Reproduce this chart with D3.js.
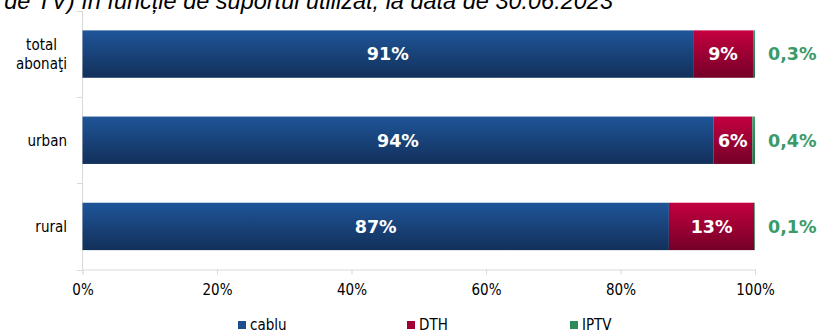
<!DOCTYPE html>
<html><head><meta charset="utf-8">
<script src="https://cdn.jsdelivr.net/npm/d3@7/dist/d3.min.js"></script>
<style>
html,body{margin:0;padding:0;background:#fff;overflow:hidden}
svg{display:block}
</style></head>
<body>
<svg id="chart" width="824" height="334"></svg>
<script>
const categories = ["total abonaţi", "urban", "rural"];
const seriesNames = ["cablu", "DTH", "IPTV"];
const cablu = [90.8, 93.8, 87.2];
const dth = [8.9, 5.8, 12.7];
const iptv = [0.3, 0.4, 0.1];
const xTicks = [0, 20, 40, 60, 80, 100];
const titleText = "programe de TV) în funcție de suportul utilizat, la data de 30.06.2023";

const svg = d3.select("#chart");
const defs = svg.append("defs");
const grads = [
  {id:"gCablu", top:"#1f5599", bot:"#12305a", solid:"#1f4e8c"},
  {id:"gDth", top:"#c4003f", bot:"#740028", solid:"#a00035"},
  {id:"gIptv", top:"#3aa06a", bot:"#1f7246", solid:"#2e8b57"}
];
grads.forEach(g => {
  const lg = defs.append("linearGradient").attr("id", g.id).attr("x1",0).attr("y1",0).attr("x2",0).attr("y2",1);
  lg.append("stop").attr("offset","0%").attr("stop-color", g.top);
  lg.append("stop").attr("offset","100%").attr("stop-color", g.bot);
});

const x = d3.scaleLinear().domain([0,100]).range([82.5, 755]);
const y = d3.scaleBand().domain(categories).range([11, 269.5]).paddingInner(0.45).paddingOuter(0.225);

// title (partially cropped at top, as in the reference)
svg.append("text").attr("x", 613).attr("y", 9).attr("text-anchor","end")
  .attr("font-family","Liberation Sans, Arial, sans-serif").attr("font-style","italic")
  .attr("font-size", 23.5).attr("fill","#000").text(titleText);

const axisColor = "#d9d9d9";
svg.append("line").attr("x1",82.5).attr("x2",82.5).attr("y1",11).attr("y2",269.5).attr("stroke",axisColor);
const bounds = [11].concat(categories.map(c => y(c) + y.bandwidth() + y.step()*y.paddingInner()/2));
bounds.forEach(b => {
  const yy = Math.round(b) + 0.5;
  svg.append("line").attr("x1",77).attr("x2",82.5).attr("y1",yy).attr("y2",yy).attr("stroke",axisColor);
});

const xAxis = d3.axisBottom(x).tickValues(xTicks).tickFormat(d => d + "%").tickSize(5).tickPadding(10);
const gx = svg.append("g").attr("transform","translate(0,269.5)").call(xAxis);
gx.select(".domain").attr("stroke", axisColor);
gx.selectAll(".tick line").attr("stroke", axisColor);
gx.selectAll(".tick text").attr("font-family","DejaVu Sans Condensed, DejaVu Sans, sans-serif")
  .attr("font-size", 15).attr("fill","#000");

const rows = categories.map((c,i) => ({cat:c, cablu:cablu[i], DTH:dth[i], IPTV:iptv[i]}));
const stack = d3.stack().keys(seriesNames)(rows);

stack.forEach((layer, li) => {
  svg.append("g").selectAll("rect").data(layer).join("rect")
    .attr("x", d => x(d[0]))
    .attr("y", d => y(d.data.cat))
    .attr("width", d => x(d[1]) - x(d[0]))
    .attr("height", y.bandwidth())
    .attr("fill", `url(#${grads[li].id})`);
});

const lblFont = "DejaVu Sans, Verdana, sans-serif";
stack.slice(0,2).forEach(layer => {
  svg.append("g").selectAll("text").data(layer).join("text")
    .attr("x", d => (x(d[0]) + x(d[1]))/2)
    .attr("y", d => y(d.data.cat) + y.bandwidth()/2)
    .attr("dy","0.36em").attr("text-anchor","middle")
    .attr("font-family", lblFont).attr("font-weight","bold").attr("font-size", 17.5)
    .attr("fill","#fff")
    .text(d => Math.round(d[1]-d[0]) + "%");
});
svg.append("g").selectAll("text").data(stack[2]).join("text")
  .attr("x", d => x(d[1]) + 13)
  .attr("y", d => y(d.data.cat) + y.bandwidth()/2)
  .attr("dy","0.36em").attr("text-anchor","start")
  .attr("font-family", lblFont).attr("font-weight","bold").attr("font-size", 17.5)
  .attr("fill","#3a9a68")
  .text(d => (d[1]-d[0]).toFixed(1).replace(".", ",") + "%");

categories.forEach(c => {
  const words = c.split(" ");
  const cy = y(c) + y.bandwidth()/2;
  const lh = 19;
  const t = svg.append("text").attr("text-anchor","middle")
    .attr("font-family","DejaVu Sans Condensed, DejaVu Sans, sans-serif")
    .attr("font-size", 15).attr("fill","#000");
  words.forEach((w,i) => {
    t.append("tspan").attr("x",0).attr("y", cy + (i - (words.length-1)/2)*lh).attr("dy","0.36em").text(w);
  });
  const bb = t.node().getBBox();
  t.attr("transform", `translate(${67 - bb.width/2},0)`);
});

const legX = [238, 407, 570];
const legend = svg.append("g");
seriesNames.forEach((s,i) => {
  legend.append("rect").attr("x", legX[i]).attr("y", 321).attr("width",8).attr("height",8)
    .attr("fill", grads[i].solid);
  legend.append("text").attr("x", legX[i] + 12).attr("y", 325).attr("dy","0.36em")
    .attr("font-family","DejaVu Sans Condensed, DejaVu Sans, sans-serif")
    .attr("font-size", 15).attr("fill","#000").text(s);
});
</script>
</body></html>
